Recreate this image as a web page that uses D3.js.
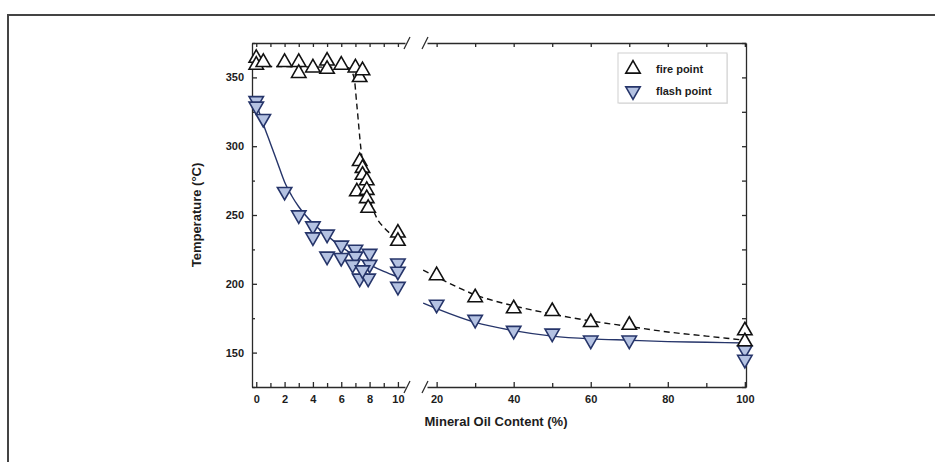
<!DOCTYPE html>
<html>
<head>
<meta charset="utf-8">
<script src="https://cdn.jsdelivr.net/npm/d3@7/dist/d3.min.js"></script>
<style>
    body { margin: 0; background: #fff; }
    #chart-area { width: 935px; height: 462px; }
    text { font-family: "Liberation Sans", Arial, sans-serif; font-weight: bold; fill: #1c1c1c; }
</style>
</head>
<body>
<div id="chart-area"></div>
<script>

// fire point measurements (mineral oil %, temperature °C)
let fireX = [0, 0, 0.5, 2, 3, 3, 4, 5, 5, 6, 7, 7.3, 7.5,
    7.3, 7.5, 7.5, 7.8, 7.1, 7.8, 7.8, 7.9, 10, 10,
    20, 30, 40, 50, 60, 70, 100, 100];
let fireT = [364, 359, 361, 361, 361, 353, 357, 362, 356, 359, 357, 350, 355,
    289, 284, 279, 275, 267, 268, 262, 255, 237, 231,
    206, 190, 182, 180, 172, 170, 166, 158];

// flash point measurements
let flashX = [0, 0, 0.5, 2, 3, 4, 4, 5, 5, 6, 6, 7, 7, 6.8, 8, 8, 7.3, 7.9, 7.5, 10, 10, 10,
    20, 30, 40, 50, 60, 70, 100, 100];
let flashT = [333, 329, 320, 267, 250, 242, 234, 236, 220, 228, 219, 225, 220, 214, 222, 214, 204, 204, 210, 215, 209, 198,
    185, 174, 166, 164, 159, 159, 152, 145];

// fitted curves
let fireFitLeftX = [0, 6.5, 6.9, 7.1, 7.4, 7.7, 8.0, 8.5, 9.0, 10];
let fireFitLeftT = [358, 357, 350, 330, 297, 276, 262, 248, 241, 233];
let fireFitRightX = [16.5, 20, 30, 40, 50, 60, 70, 80, 90, 100];
let fireFitRightT = [210, 205, 192, 184, 178, 173, 169, 165, 162, 159];

let flashFitLeftX = [0, 0.5, 1, 1.5, 2, 2.5, 3, 4, 5, 6, 7, 8, 9, 10];
let flashFitLeftT = [331, 316, 302, 288, 274, 264, 256, 244, 235, 227, 220, 214, 209, 205];
let flashFitRightX = [16.5, 20, 30, 40, 50, 60, 70, 80, 90, 100];
let flashFitRightT = [186, 182, 172, 166, 162, 160, 159, 158, 157.5, 157];

// ticks
let xTicksLeft = [0, 2, 4, 6, 8, 10];
let xMinorLeft = [1, 3, 5, 7, 9];
let xTicksRight = [20, 40, 60, 80, 100];
let xMinorRight = [30, 50, 70, 90];
let yTicks = [150, 200, 250, 300, 350];
let yMinor = [125, 175, 225, 275, 325, 375];

let legendLabels = ["fire point", "flash point"];


class TempVis {

    constructor(parentElement) {
        this.parentElement = parentElement;
        this.initVis();
    }

    initVis() {
        let vis = this;

        vis.left = 252;
        vis.right = 746;
        vis.top = 43;
        vis.bottom = 387;
        vis.gapStart = 405;
        vis.gapEnd = 427;

        vis.svg = d3.select("#" + vis.parentElement)
            .append("svg")
            .attr("width", 935)
            .attr("height", 462);

        // outer page frame
        vis.svg.append("path")
            .attr("d", "M8,462 L8,15 L935,15")
            .style("fill", "none")
            .style("stroke", "#444")
            .style("stroke-width", 2);

        vis.xLeft = d3.scaleLinear()
            .domain([-0.3, 10.5])
            .range([vis.left, vis.gapStart]);

        vis.xRight = d3.scaleLinear()
            .domain([17.5, 100.3])
            .range([vis.gapEnd, vis.right]);

        vis.y = d3.scaleLinear()
            .domain([125, 375])
            .range([vis.bottom, vis.top]);

        vis.xPos = function(d) { return d <= 12 ? vis.xLeft(d) : vis.xRight(d); };

        vis.drawAxes();
        vis.updateVis();
    }

    drawAxes() {
        let vis = this;

        let styleAxis = function(g) {
            g.selectAll("path, line").style("stroke", "#2a2a2a").style("stroke-width", 1.3);
            g.selectAll("text").style("font-size", "11px").style("fill", "#1c1c1c");
        };

        // bottom, two segments
        vis.svg.append("g")
            .attr("transform", "translate(0," + vis.bottom + ")")
            .call(d3.axisBottom(vis.xLeft).tickValues(xTicksLeft).tickSizeInner(-5).tickSizeOuter(0).tickPadding(8))
            .call(styleAxis);
        vis.svg.append("g")
            .attr("transform", "translate(0," + vis.bottom + ")")
            .call(d3.axisBottom(vis.xRight).tickValues(xTicksRight).tickSizeInner(-5).tickSizeOuter(0).tickPadding(8))
            .call(styleAxis);
        vis.svg.append("g")
            .attr("transform", "translate(0," + vis.bottom + ")")
            .call(d3.axisBottom(vis.xLeft).tickValues(xMinorLeft).tickSize(-4).tickFormat(""))
            .call(styleAxis)
            .select(".domain").remove();
        vis.svg.append("g")
            .attr("transform", "translate(0," + vis.bottom + ")")
            .call(d3.axisBottom(vis.xRight).tickValues(xMinorRight).tickSize(-4).tickFormat(""))
            .call(styleAxis)
            .select(".domain").remove();

        // top, ticks only
        vis.svg.append("g")
            .attr("transform", "translate(0," + vis.top + ")")
            .call(d3.axisTop(vis.xLeft).tickValues(xTicksLeft.concat(xMinorLeft)).tickSizeInner(-4).tickSizeOuter(0).tickFormat(""))
            .call(styleAxis);
        vis.svg.append("g")
            .attr("transform", "translate(0," + vis.top + ")")
            .call(d3.axisTop(vis.xRight).tickValues(xTicksRight.concat(xMinorRight)).tickSizeInner(-4).tickSizeOuter(0).tickFormat(""))
            .call(styleAxis);

        // left & right
        vis.svg.append("g")
            .attr("transform", "translate(" + vis.left + ",0)")
            .call(d3.axisLeft(vis.y).tickValues(yTicks).tickSizeInner(-5).tickSizeOuter(0).tickPadding(8))
            .call(styleAxis);
        vis.svg.append("g")
            .attr("transform", "translate(" + vis.left + ",0)")
            .call(d3.axisLeft(vis.y).tickValues(yMinor).tickSize(-3).tickFormat(""))
            .call(styleAxis)
            .select(".domain").remove();
        vis.svg.append("g")
            .attr("transform", "translate(" + vis.right + ",0)")
            .call(d3.axisRight(vis.y).tickValues(yTicks.concat(yMinor)).tickSizeInner(-4).tickSizeOuter(0).tickFormat(""))
            .call(styleAxis);

        // axis break marks
        [vis.top, vis.bottom].forEach(function(yy) {
            [vis.gapStart + 2, vis.gapEnd - 2].forEach(function(xx) {
                vis.svg.append("line")
                    .attr("x1", xx - 3).attr("y1", yy + 6)
                    .attr("x2", xx + 3).attr("y2", yy - 6)
                    .style("stroke", "#2a2a2a")
                    .style("stroke-width", 1.2);
            });
        });

        // titles
        vis.svg.append("text")
            .attr("x", (vis.left + vis.right) / 2 - 3)
            .attr("y", 426)
            .attr("text-anchor", "middle")
            .style("font-size", "13px")
            .text("Mineral Oil Content (%)");

        vis.svg.append("text")
            .attr("transform", "translate(201," + ((vis.top + vis.bottom) / 2) + ") rotate(-90)")
            .attr("text-anchor", "middle")
            .style("font-size", "13px")
            .text("Temperature (°C)");
    }

    updateVis() {
        let vis = this;

        let line = d3.line()
            .x(function(d) { return vis.xPos(d[0]); })
            .y(function(d) { return vis.y(d[1]); })
            .curve(d3.curveMonotoneX);

        // fitted lines
        vis.svg.append("path")
            .datum(d3.zip(fireFitLeftX, fireFitLeftT))
            .attr("d", line)
            .style("fill", "none").style("stroke", "#111").style("stroke-width", 1.4)
            .style("stroke-dasharray", "6,4");
        vis.svg.append("path")
            .datum(d3.zip(fireFitRightX, fireFitRightT))
            .attr("d", line)
            .style("fill", "none").style("stroke", "#111").style("stroke-width", 1.4)
            .style("stroke-dasharray", "6,4");
        vis.svg.append("path")
            .datum(d3.zip(flashFitLeftX, flashFitLeftT))
            .attr("d", line)
            .style("fill", "none").style("stroke", "#26356a").style("stroke-width", 1.4);
        vis.svg.append("path")
            .datum(d3.zip(flashFitRightX, flashFitRightT))
            .attr("d", line)
            .style("fill", "none").style("stroke", "#26356a").style("stroke-width", 1.4);

        let tri = d3.symbol().type(d3.symbolTriangle).size(90);

        vis.svg.selectAll(".flash")
            .data(d3.zip(flashX, flashT))
            .enter().append("path")
            .attr("class", "flash")
            .attr("d", tri)
            .attr("transform", function(d) { return "translate(" + vis.xPos(d[0]) + "," + vis.y(d[1]) + ") rotate(180)"; })
            .style("fill", "#b4c2e2")
            .style("stroke", "#26356a")
            .style("stroke-width", 1.6);

        vis.svg.selectAll(".fire")
            .data(d3.zip(fireX, fireT))
            .enter().append("path")
            .attr("class", "fire")
            .attr("d", tri)
            .attr("transform", function(d) { return "translate(" + vis.xPos(d[0]) + "," + vis.y(d[1]) + ")"; })
            .style("fill", "#fff")
            .style("stroke", "#111")
            .style("stroke-width", 1.6);

        // legend
        let legend = vis.svg.append("g").attr("transform", "translate(618,53)");
        legend.append("rect")
            .attr("x", 1).attr("y", 1)
            .attr("width", 109).attr("height", 50)
            .style("fill", "#e8e8e8");
        legend.append("rect")
            .attr("width", 109).attr("height", 50)
            .style("fill", "#fff")
            .style("stroke", "#cfcfcf");

        legend.append("path")
            .attr("d", tri)
            .attr("transform", "translate(15,16)")
            .style("fill", "#fff").style("stroke", "#111").style("stroke-width", 1.6);
        legend.append("path")
            .attr("d", tri)
            .attr("transform", "translate(15,38) rotate(180)")
            .style("fill", "#b4c2e2").style("stroke", "#26356a").style("stroke-width", 1.6);

        legend.selectAll(".legend-label")
            .data(legendLabels)
            .enter().append("text")
            .attr("class", "legend-label")
            .attr("x", 38)
            .attr("y", function(d, i) { return 20 + i * 22; })
            .style("font-size", "11px")
            .text(function(d) { return d; });
    }
}

new TempVis("chart-area");
</script>
</body>
</html>
